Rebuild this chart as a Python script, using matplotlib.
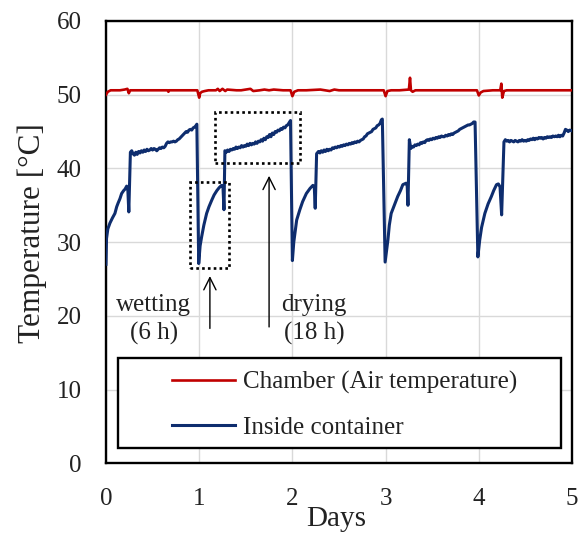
import matplotlib
matplotlib.use('Agg')
import matplotlib.pyplot as plt
from matplotlib.patches import Rectangle

# ---------------- data ----------------
inside_days = [
    0.000, 0.006, 0.020, 0.043, 0.070, 0.096, 0.115, 0.130, 0.150, 0.168, 0.190, 0.205, 0.222, 0.235, 0.245,
    0.262, 0.276, 0.290, 0.305, 0.320, 0.335, 0.350, 0.365, 0.380, 0.395, 0.410, 0.425, 0.440, 0.455, 0.470,
    0.485, 0.500, 0.515, 0.530, 0.545, 0.560, 0.575, 0.590, 0.605, 0.620, 0.635, 0.650, 0.665, 0.680, 0.695,
    0.710, 0.725, 0.740, 0.755, 0.770, 0.785, 0.800, 0.815, 0.830, 0.845, 0.860, 0.875, 0.890, 0.905, 0.920,
    0.935, 0.950, 0.965, 0.975,
    0.995, 1.010, 1.026, 1.050, 1.080, 1.105, 1.135, 1.160, 1.190, 1.215, 1.240, 1.255, 1.266,
    1.276, 1.290, 1.305, 1.320, 1.335, 1.350, 1.365, 1.380, 1.395, 1.410, 1.425, 1.440, 1.455, 1.470, 1.485,
    1.500, 1.515, 1.530, 1.545, 1.560, 1.575, 1.590, 1.605, 1.620, 1.635, 1.650, 1.665, 1.680, 1.695, 1.710,
    1.725, 1.740, 1.755, 1.770, 1.785, 1.800, 1.815, 1.830, 1.845, 1.860, 1.875, 1.890, 1.905, 1.920, 1.935,
    1.950, 1.965, 1.980,
    2.000, 2.015, 2.046, 2.080, 2.110, 2.150, 2.190, 2.220, 2.235, 2.245,
    2.260, 2.280, 2.295, 2.310, 2.325, 2.340, 2.355, 2.370, 2.385, 2.400, 2.415, 2.430, 2.445, 2.460, 2.475,
    2.490, 2.505, 2.520, 2.535, 2.550, 2.565, 2.580, 2.595, 2.610, 2.625, 2.640, 2.655, 2.670, 2.685, 2.700,
    2.715, 2.730, 2.745, 2.760, 2.775, 2.790, 2.805, 2.820, 2.835, 2.850, 2.865, 2.880, 2.895, 2.910, 2.925,
    2.940, 2.955, 2.965,
    2.995, 3.025, 3.040, 3.060, 3.090, 3.130, 3.160, 3.185, 3.220, 3.232, 3.240,
    3.255, 3.270, 3.285, 3.300, 3.315, 3.330, 3.345, 3.360, 3.375, 3.390, 3.405, 3.420, 3.435, 3.450, 3.465,
    3.480, 3.495, 3.510, 3.525, 3.540, 3.555, 3.570, 3.585, 3.600, 3.615, 3.630, 3.645, 3.660, 3.675, 3.690,
    3.705, 3.720, 3.735, 3.750, 3.765, 3.780, 3.795, 3.810, 3.825, 3.840, 3.855, 3.870, 3.885, 3.900, 3.915,
    3.930, 3.945, 3.960,
    3.990, 4.010, 4.030, 4.065, 4.100, 4.135, 4.160, 4.190, 4.210, 4.228, 4.245,
    4.270, 4.285, 4.300, 4.315, 4.330, 4.345, 4.360, 4.375, 4.390, 4.405, 4.420, 4.435, 4.450, 4.465, 4.480,
    4.495, 4.510, 4.525, 4.540, 4.555, 4.570, 4.585, 4.600, 4.615, 4.630, 4.645, 4.660, 4.675, 4.690, 4.705,
    4.720, 4.735, 4.750, 4.765, 4.780, 4.795, 4.810, 4.825, 4.840, 4.855, 4.870, 4.885, 4.900, 4.915, 4.930,
    4.945, 4.960, 4.975, 5.000,
]
inside_temp = [
    27.0, 30.5, 31.8, 32.6, 33.3, 33.9, 34.8, 35.3, 35.9, 36.6, 37.0, 37.2, 37.6, 37.0, 34.1,
    42.2, 42.4, 42.0, 41.8, 42.2, 41.9, 42.3, 42.1, 42.4, 42.2, 42.5, 42.3, 42.6, 42.4, 42.5,
    42.7, 42.5, 42.7, 42.6, 42.4, 42.6, 42.8, 42.7, 42.9, 42.8, 43.0, 43.4, 43.6, 43.5, 43.6,
    43.6, 43.7, 43.6, 43.7, 43.9, 44.0, 44.2, 44.4, 44.6, 44.8, 45.0, 44.9, 45.2, 45.3, 45.2,
    45.5, 45.6, 45.8, 46.0,
    27.1, 29.5, 30.7, 32.3, 33.9, 34.8, 35.7, 36.4, 37.0, 37.4, 37.7, 37.6, 34.4,
    42.4, 42.2, 42.5, 42.3, 42.6, 42.5, 42.7, 42.6, 42.9, 42.7, 42.9, 42.8, 43.1, 42.9, 43.1,
    43.0, 43.3, 43.1, 43.4, 43.2, 43.4, 43.3, 43.6, 43.4, 43.7, 43.6, 43.9, 43.7, 44.1, 43.9,
    44.3, 44.2, 44.6, 44.3, 44.8, 44.6, 45.0, 44.9, 45.2, 45.1, 45.4, 45.3, 45.6, 45.5, 45.8,
    45.9, 46.2, 46.5,
    27.5, 30.0, 33.0, 34.4, 35.5, 36.6, 37.3, 37.7, 37.5, 34.6,
    42.0, 42.3, 42.1, 42.4, 42.2, 42.5, 42.3, 42.6, 42.4, 42.6, 42.5, 42.8, 42.7, 42.9, 42.8,
    43.0, 42.9, 43.1, 43.0, 43.2, 43.1, 43.3, 43.2, 43.4, 43.3, 43.5, 43.4, 43.6, 43.5, 43.7,
    43.6, 43.8, 43.9, 44.0, 44.3, 44.4, 44.7, 44.8, 44.9, 45.0, 45.3, 45.4, 45.5, 45.8, 45.9,
    46.1, 46.6, 46.7,
    27.3, 30.3, 32.3, 33.9, 34.9, 36.2, 37.0, 37.8, 38.0, 37.6, 35.0,
    43.9, 42.7, 43.0, 42.9, 43.2, 43.1, 43.3, 43.2, 43.5, 43.4, 43.6, 43.5, 43.8, 43.9, 43.8,
    44.0, 43.9, 44.1, 44.0, 44.2, 44.1, 44.3, 44.2, 44.4, 44.3, 44.3, 44.5, 44.4, 44.6, 44.5,
    44.7, 44.6, 44.8, 44.9, 45.0, 45.1, 45.3, 45.4, 45.5, 45.6, 45.7, 45.8, 45.9, 45.9, 46.0,
    46.1, 46.3, 46.3,
    28.0, 30.3, 32.0, 33.9, 35.2, 36.2, 37.0, 37.8, 37.9, 37.5, 33.7,
    43.6, 43.9, 43.7, 43.8, 43.6, 43.8, 43.7, 43.6, 43.8, 43.7, 43.6, 43.8, 43.7, 43.9, 43.7,
    43.8, 43.7, 43.9, 43.8, 44.0, 43.9, 44.1, 43.9, 44.1, 44.0, 44.2, 44.1, 44.2, 44.0, 44.2,
    44.1, 44.3, 44.2, 44.3, 44.2, 44.4, 44.3, 44.4, 44.3, 44.5, 44.3, 44.5, 44.4, 44.8, 45.3,
    45.2, 45.0, 45.2, 45.1,
]

chamber_days = [
    0.00, 0.02, 0.05, 0.10, 0.15, 0.20, 0.23, 0.245, 0.26, 0.35, 0.45, 0.55, 0.66, 0.67, 0.68, 0.80, 0.90, 0.98,
    0.99, 1.00, 1.01, 1.03, 1.06, 1.10, 1.18, 1.20, 1.22, 1.25, 1.28, 1.30, 1.40, 1.45, 1.55, 1.58, 1.65,
    1.70, 1.75, 1.80, 1.90, 1.98, 2.00, 2.02, 2.06, 2.15, 2.30, 2.40, 2.45, 2.50, 2.65, 2.80, 2.98,
    3.00, 3.02, 3.06, 3.15, 3.25, 3.262, 3.272, 3.29, 3.32, 3.45, 3.60, 3.75, 3.90, 3.98, 4.00, 4.02,
    4.05, 4.15, 4.23, 4.242, 4.252, 4.27, 4.30, 4.45, 4.60, 4.75, 4.90, 5.00,
]
chamber_temp = [
    50.0, 50.4, 50.6, 50.6, 50.6, 50.7, 50.8, 50.2, 50.6, 50.6, 50.6, 50.6, 50.6, 50.4, 50.6, 50.6, 50.6, 50.6,
    50.1, 49.6, 50.2, 50.4, 50.5, 50.6, 50.6, 50.8, 50.5, 50.8, 50.5, 50.7, 50.6, 50.6, 50.8, 50.5, 50.6,
    50.7, 50.6, 50.7, 50.6, 50.6, 49.8, 50.4, 50.6, 50.6, 50.7, 50.5, 50.7, 50.6, 50.6, 50.6, 50.6,
    49.8, 50.5, 50.6, 50.6, 50.7, 52.3, 50.6, 50.4, 50.6, 50.6, 50.6, 50.6, 50.6, 50.6, 49.9, 50.3,
    50.5, 50.6, 50.6, 51.5, 49.6, 50.5, 50.6, 50.6, 50.6, 50.6, 50.6, 50.6,
]

x_ticks = [0, 1, 2, 3, 4, 5]
y_ticks = [0, 10, 20, 30, 40, 50, 60]
series_labels = ['Chamber (Air temperature)', 'Inside container']

# annotation boxes (x0, x1, y0, y1) and arrows (x, y_tail, y_head)
wet_box = (0.90, 1.32, 26.45, 38.2)
dry_box = (1.17, 2.08, 40.7, 47.7)
wet_arrow = (1.115, 18.3, 25.4)
dry_arrow = (1.75, 18.5, 39.0)

# ---------------- figure ----------------
plt.rcParams['font.family'] = ['Liberation Serif', 'DejaVu Serif']

fig = plt.figure(figsize=(5.81, 5.37), dpi=100)
ax = fig.add_axes([0.1824, 0.1372, 0.8021, 0.8237])

red = '#C00000'
blue = '#0E2D6E'
l1, = ax.plot(chamber_days, chamber_temp, color=red, lw=1.9, label=series_labels[0], zorder=3)
l2, = ax.plot(inside_days, inside_temp, color=blue, lw=2.2, label=series_labels[1], zorder=3)

ax.set_xlim(0, 5)
ax.set_ylim(0, 60)
ax.set_xticks(x_ticks)
ax.set_yticks(y_ticks)
ax.grid(True, color='#D9D9D9', lw=1.0)
ax.set_axisbelow(True)
for s in ax.spines.values():
    s.set_linewidth(1.7)
    s.set_color('black')
ax.tick_params(length=0, labelsize=18, colors='#222222')
ax.tick_params(axis='y', pad=17.5)
ax.tick_params(axis='x', pad=18)

ax.set_ylabel('Temperature [°C]', fontsize=22.5, va='center', color='#222222')
ax.yaxis.set_label_coords(-0.159, 0.52)
ax.set_xlabel('Days', fontsize=21, va='center', color='#222222')
ax.xaxis.set_label_coords(0.495, -0.127)

# dotted boxes
for (x0, x1, y0, y1) in (wet_box, dry_box):
    ax.add_patch(Rectangle((x0, y0), x1 - x0, y1 - y0, fill=False, ec='black',
                           lw=1.9, ls=(0, (1, 1.2)), zorder=4))

# arrows
for (x, yt, yh) in (wet_arrow, dry_arrow):
    ax.annotate('', xy=(x, yh), xytext=(x, yt),
                arrowprops=dict(arrowstyle='->', lw=1.0, color='black',
                                mutation_scale=22, shrinkA=0, shrinkB=0), zorder=4)

ax.text(0.512, 21.5, 'wetting', ha='center', va='center', fontsize=18, color='#222222')
ax.text(0.512, 17.6, '(6 h)', ha='center', va='center', fontsize=18, color='#222222')
ax.text(2.235, 21.5, 'drying', ha='center', va='center', fontsize=18, color='#222222')
ax.text(2.24, 17.6, '(18 h)', ha='center', va='center', fontsize=18, color='#222222')

# legend frame + legend
ax.add_patch(Rectangle((0.0264, 0.0339), 0.949, 0.2035, transform=ax.transAxes,
                       fc='white', ec='black', lw=1.7, zorder=5))
leg = ax.legend(handles=[l1, l2], loc='center left', bbox_to_anchor=(0.141, 0.1325),
                frameon=False, fontsize=18, handlelength=2.55, handletextpad=0.3,
                borderpad=0, borderaxespad=0, labelspacing=0.9)
leg.set_zorder(6)
for t in leg.get_texts():
    t.set_color('#222222')

fig.savefig('out.png', dpi=100)
